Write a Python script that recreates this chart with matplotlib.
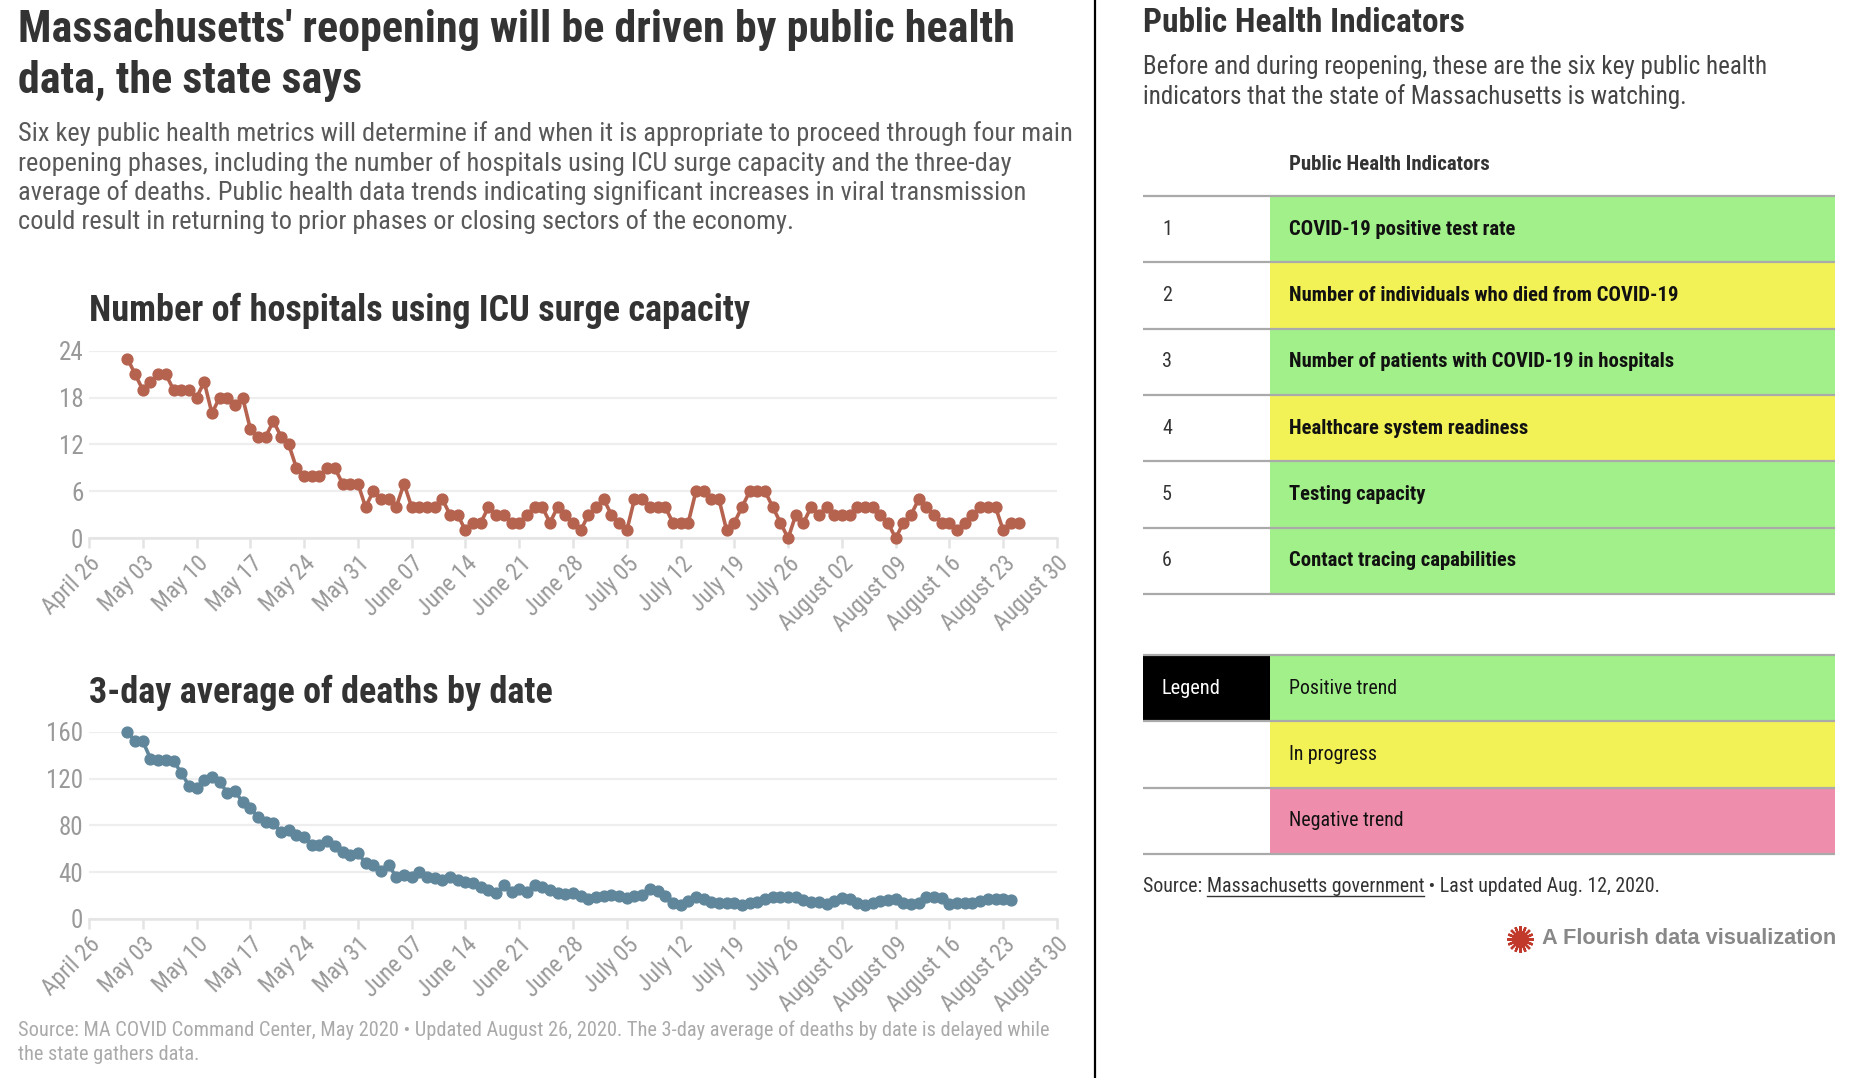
import matplotlib
matplotlib.use("Agg")
import matplotlib.pyplot as plt
import matplotlib.dates as mdates
import pandas as pd
from matplotlib import font_manager
from matplotlib.patches import Rectangle

W, H = 1856, 1078

# ---- data ----
icu_start = "2020-05-01"
icu_values = [23, 21, 19, 20, 21, 21, 19, 19, 19, 18, 20, 16, 18, 18, 17, 18, 14, 13, 13, 15,
              13, 12, 9, 8, 8, 8, 9, 9, 7, 7, 7, 4, 6, 5, 5, 4, 7, 4, 4, 4,
              4, 5, 3, 3, 1, 2, 2, 4, 3, 3, 2, 2, 3, 4, 4, 2, 4,
              3, 2, 1, 3, 4, 5, 3, 2, 1, 5, 5, 4, 4, 4, 2, 2, 2, 6, 6, 5,
              5, 1, 2, 4, 6, 6, 6, 4, 2, 0, 3, 2, 4, 3, 4, 3, 3, 3, 4, 4,
              4, 3, 2, 0, 2, 3, 5, 4, 3, 2, 2, 1, 2, 3, 4, 4, 4, 1, 2, 2]

deaths_start = "2020-05-01"
deaths_values = [160, 152, 152, 137, 136, 136, 135, 125, 114, 112, 119, 121, 117, 108, 109, 100,
                 95, 87, 83, 82, 74, 76, 72, 70, 63, 63, 67, 62, 57, 55, 56, 48, 46, 41, 46,
                 36, 38, 36, 40, 36, 35, 33, 36, 33, 32, 31, 27, 25, 22, 29, 23, 26,
                 23, 29, 27, 25, 22, 21, 22, 19.6, 17.3, 18.5, 20, 20.7, 19.6, 17.9, 20, 20.7,
                 26, 23.5, 19.6, 14, 12, 15.7, 19, 17.3, 14.5, 14, 14, 14, 12.3, 14, 14.5,
                 17.3, 19, 18.5, 19, 18.5, 16.2, 14.8, 14.8, 12.9, 15.7, 17.9, 17.3, 14, 12,
                 13.4, 15.7, 16.2, 16.8, 13.4, 12.9, 13.4, 19, 19, 17.9, 12.9, 14, 14, 14,
                 15.1, 16.8, 17.3, 17.3, 16.2]

axis_start, axis_end = "2020-04-26", "2020-08-30"
icu_yticks = [0, 6, 12, 18, 24]
deaths_yticks = [0, 40, 80, 120, 160]

indicators = ["COVID-19 positive test rate",
              "Number of individuals who died from COVID-19",
              "Number of patients with COVID-19 in hospitals",
              "Healthcare system readiness",
              "Testing capacity",
              "Contact tracing capabilities"]
statuses = ["positive", "progress", "positive", "progress", "positive", "positive"]
legend_keys = ["positive", "progress", "negative"]
legend_labels = ["Positive trend", "In progress", "Negative trend"]
status_colors = {"positive": "#a2f089", "progress": "#f2f257", "negative": "#ee8dac"}

# ---- fonts ----
avail = {f.name for f in font_manager.fontManager.ttflist}
COND = next((f for f in ["Roboto Condensed", "Liberation Sans Narrow", "Open Sans Condensed"]
             if f in avail), "DejaVu Sans")
plt.rcParams["font.family"] = [COND, "DejaVu Sans"]
plt.rcParams["font.stretch"] = "condensed"

fig = plt.figure(figsize=(W / 100, H / 100), dpi=100)
fig.patch.set_facecolor("white")

# overlay in pixel coordinates for text + table
ov = fig.add_axes([0, 0, 1, 1], zorder=0)
ov.set_xlim(0, W)
ov.set_ylim(H, 0)
ov.axis("off")

# left header
ov.text(18, 42, "Massachusetts' reopening will be driven by public health", fontsize=31.8,
        fontweight="bold", color="#333333", va="baseline")
ov.text(18, 93, "data, the state says", fontsize=31.8, fontweight="bold", color="#333333", va="baseline")
sub_lines = ["Six key public health metrics will determine if and when it is appropriate to proceed through four main",
             "reopening phases, including the number of hospitals using ICU surge capacity and the three-day",
             "average of deaths. Public health data trends indicating significant increases in viral transmission",
             "could result in returning to prior phases or closing sectors of the economy."]
for i, line in enumerate(sub_lines):
    ov.text(18, 141 + i * 29.5, line, fontsize=19, color="#595959", va="baseline")

ov.text(89, 321, "Number of hospitals using ICU surge capacity", fontsize=26,
        fontweight="bold", color="#333333", va="baseline")
ov.text(89, 703, "3-day average of deaths by date", fontsize=26,
        fontweight="bold", color="#333333", va="baseline")

ov.text(18, 1036, "Source: MA COVID Command Center, May 2020 \u2022 Updated August 26, 2020. "
        "The 3-day average of deaths by date is delayed while", fontsize=14.7, color="#aaaaaa", va="baseline")
ov.text(18, 1060, "the state gathers data.", fontsize=14.7, color="#aaaaaa", va="baseline")

# divider
ov.plot([1095, 1095], [0, H], color="black", lw=1.6, solid_capstyle="butt")

# ---- charts ----
def line_chart(rect, start, values, color, yticks):
    ax = fig.add_axes(rect, zorder=2)
    ax.set_facecolor("none")
    dates = pd.date_range(start, periods=len(values), freq="D")
    ax.plot(dates, values, color=color, lw=2.6, marker="o", ms=7.8, clip_on=False, zorder=3)
    ax.set_xlim(pd.Timestamp(axis_start), pd.Timestamp(axis_end))
    ax.set_ylim(yticks[0], yticks[-1])
    ax.set_yticks(yticks)
    ax.set_xticks(pd.date_range(axis_start, axis_end, freq="7D"))
    ax.xaxis.set_major_formatter(mdates.DateFormatter("%B %d"))
    ax.grid(axis="y", color="#eeeeee", lw=1.6)
    ax.set_axisbelow(True)
    for s in ["top", "right", "left"]:
        ax.spines[s].set_visible(False)
    ax.spines["bottom"].set_color("#e4e4e4")
    ax.spines["bottom"].set_linewidth(1.8)
    ax.tick_params(axis="y", length=0, pad=4, labelsize=18, labelcolor="#999999")
    ax.tick_params(axis="x", length=7, width=1.8, color="#e4e4e4", pad=3,
                   labelsize=17, labelcolor="#999999")
    for lab in ax.get_xticklabels():
        lab.set_rotation(45)
        lab.set_ha("right")
        lab.set_va("top")
        lab.set_rotation_mode("anchor")
    return ax

line_chart([89 / W, 1 - 538.3 / H, 968 / W, 187.6 / H], icu_start, icu_values, "#b5624f", icu_yticks)
line_chart([89 / W, 1 - 919 / H, 968 / W, 187.3 / H], deaths_start, deaths_values, "#5f869b", deaths_yticks)

# ---- right panel ----
RX = 1143
COL = 1270
REND = 1835
ov.text(RX, 32, "Public Health Indicators", fontsize=24, fontweight="bold", color="#333333", va="baseline")
ov.text(RX, 74, "Before and during reopening, these are the six key public health", fontsize=18,
        color="#444444", va="baseline")
ov.text(RX, 104, "indicators that the state of Massachusetts is watching.", fontsize=18,
        color="#444444", va="baseline")

ov.text(COL + 19, 164, "Public Health Indicators", fontsize=15, fontweight="bold", color="#333333", va="center")

row_h = 66.3
top = 196
for i, (name, st) in enumerate(zip(indicators, statuses)):
    y0 = top + i * row_h
    ov.add_patch(Rectangle((COL, y0), REND - COL, row_h, color=status_colors[st], lw=0))
    ov.text(RX + 19, y0 + row_h / 2, str(i + 1), fontsize=14.5, color="#333333", va="center")
    ov.text(COL + 19, y0 + row_h / 2, name, fontsize=14.9, fontweight="bold", color="#111111", va="center")
for i in range(len(indicators) + 1):
    ov.plot([RX, REND], [top + i * row_h] * 2, color="#aaaaaa", lw=1.6, solid_capstyle="butt")

ltop = 655
for i, (key, lab) in enumerate(zip(legend_keys, legend_labels)):
    y0 = ltop + i * row_h
    ov.add_patch(Rectangle((COL, y0), REND - COL, row_h, color=status_colors[key], lw=0))
    ov.text(COL + 19, y0 + row_h / 2, lab, fontsize=14.3, color="#111111", va="center")
ov.add_patch(Rectangle((RX, ltop), COL - RX, row_h, color="black", lw=0))
ov.text(RX + 19, ltop + row_h / 2, "Legend", fontsize=14.7, color="white", va="center")
for i in range(len(legend_keys) + 1):
    ov.plot([RX, REND], [ltop + i * row_h] * 2, color="#aaaaaa", lw=1.6, solid_capstyle="butt")

# source line with underlined link
fig.canvas.draw()
r = fig.canvas.get_renderer()
t1 = ov.text(RX, 892, "Source: ", fontsize=14.3, color="#333333", va="baseline")
w1 = t1.get_window_extent(r).width
t2 = ov.text(RX + w1, 892, "Massachusetts government", fontsize=14.3, color="#333333", va="baseline")
w2 = t2.get_window_extent(r).width
ov.plot([RX + w1, RX + w1 + w2], [896, 896], color="#333333", lw=1.0)
ov.text(RX + w1 + w2, 892, " \u2022 Last updated Aug. 12, 2020.", fontsize=14.3, color="#333333", va="baseline")

# flourish credit
tf = ov.text(1836, 939, "A Flourish data visualization", fontsize=15.7, fontweight="bold",
             color="#888888", ha="right", va="center", family=["Liberation Sans", "DejaVu Sans"],
             fontstretch="normal")
wf = tf.get_window_extent(r).width
ov.plot([1836 - wf - 22], [939], marker=(16, 2, 0), ms=19, mew=1.7, color="#c0392b")

fig.savefig("out.png", dpi=100, facecolor="white")
